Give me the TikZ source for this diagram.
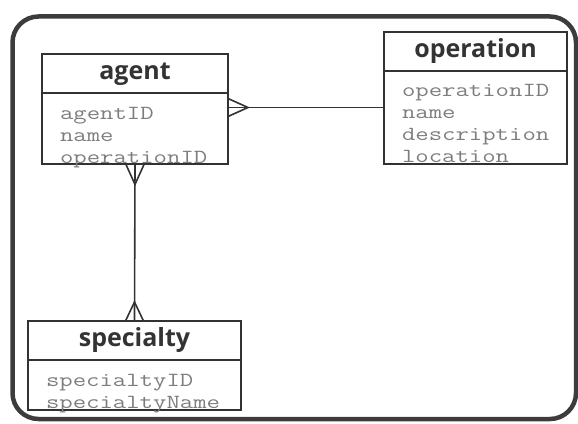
\documentclass[tikz,border=0pt]{standalone}
\usepackage{xcolor}
\usepackage{fontspec}
\usepackage{tikz}
\usetikzlibrary{positioning}
\newfontfamily\headfont{Open Sans}
\newfontfamily\attrfont{Latin Modern Mono}[FakeStretch=1.3]
\definecolor{erline}{RGB}{50,50,50}
\definecolor{erframe}{RGB}{60,60,60}
\definecolor{erattr}{RGB}{125,125,125}
\tikzstyle{entity} = [draw=erline, line width=2pt, minimum height=39pt, inner sep=0pt, outer sep=0pt, font=\headfont\bfseries\fontsize{25}{28}\selectfont, text=black!80]
\tikzstyle{attrs} = [draw=erline, line width=2pt, anchor=north, align=left, inner xsep=18pt, inner ysep=0pt, outer sep=0pt, text height=26pt, font=\attrfont\fontsize{20}{22}\selectfont, text=erattr]
\tikzstyle{link} = [line width=1.6pt, draw=erline]

\begin{document}
\begin{tikzpicture}[x=1pt, y=1pt]
    \useasboundingbox (0,0) rectangle (578,423);
    \draw[erframe, line width=4.5pt, rounded corners=26pt] (12.5,4) rectangle (576,406.5);
    \node[entity, minimum width=186pt] (agent) at (135,349) {agent};
    \node[attrs, text width=150pt, text depth=45pt] (agent-attrs) at (agent.south)
        {agentID\\name\\operationID};
    \node[entity, minimum width=183pt] (operation) at (475.5,371.5) {operation};
    \node[attrs, text width=147pt, text depth=67pt] (operation-attrs) at (operation.south)
        {operationID\\name\\description\\location};
    \node[entity, minimum width=213pt] (specialty) at (134.5,82.5) {specialty};
    \node[attrs, text width=177pt, text depth=24pt] (specialty-attrs) at (specialty.south)
        {specialtyID\\specialtyName};
    \coordinate (ao) at ([yshift=-14pt]agent-attrs.north east);
    \draw[link] (ao) -- (ao -| operation-attrs.west);
    \draw[link] ([yshift=9pt]ao) -- ++(20,-9) -- ([yshift=-9pt]ao);
    \draw[link] (agent-attrs.south) -- (specialty.north);
    \draw[link] ([xshift=-9pt]agent-attrs.south) -- ++(9,-20) -- ([xshift=9pt]agent-attrs.south);
    \draw[link] ([xshift=-9pt]specialty.north) -- ++(9,19) -- ([xshift=9pt]specialty.north);
\end{tikzpicture}
\end{document}
